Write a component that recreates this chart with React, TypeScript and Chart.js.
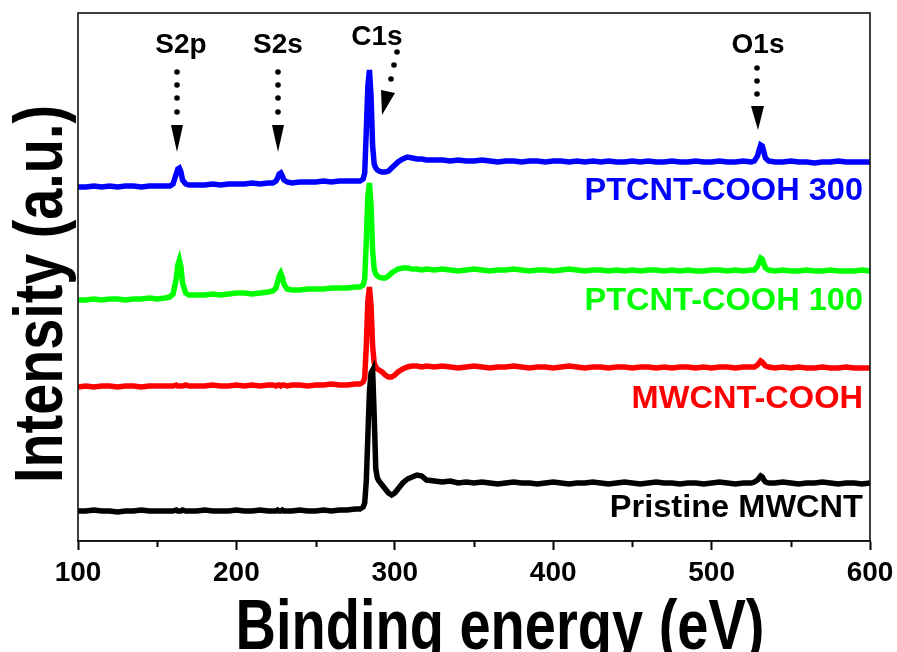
import React, { useEffect, useRef } from "react";
import { Chart, registerables } from "chart.js";

Chart.register(...registerables);

// Binding energy grid (eV)
const energy: number[] = [
  100, 105, 110, 115, 120, 125, 130, 135, 140, 145, 150, 155,
  158, 160, 162, 163, 164, 165, 166, 168, 170,
  175, 180, 185, 190, 195, 200, 205, 210, 215, 220,
  223, 225, 226, 227, 228, 229, 230, 232,
  235, 240, 245, 250, 255, 260, 265, 270, 275,
  278, 280, 281, 282, 283, 284, 285, 286, 287, 288, 289, 290, 292, 294, 296, 298, 300, 302, 305, 308, 311, 314, 317, 320,
  325, 330, 335, 340, 345, 350, 355, 360, 365, 370, 375, 380, 385, 390, 395, 400, 405, 410, 415, 420, 425, 430, 435, 440, 445, 450, 455, 460, 465, 470, 475, 480, 485, 490, 495, 500, 505, 510, 515, 520, 525,
  527, 529, 530, 531, 532, 533, 534, 536,
  540, 545, 550, 555, 560, 565, 570, 575, 580, 585, 590, 595, 600,
];

// Intensity (a.u., stacked offsets) per sample
const pristineMWCNT: number[] = [
  30, 30, 31, 30, 30, 29, 30, 30, 31, 30, 30, 30,
  30, 30, 31, 30, 30, 30, 31, 30, 30,
  30, 31, 30, 30, 30, 31, 30, 30, 31, 30,
  30, 30, 31, 30, 30, 31, 30, 30,
  30, 31, 30, 30, 31, 30, 31, 31, 32,
  32, 34, 38, 60, 105, 150, 168, 171, 125, 72, 63, 60, 56, 52, 48, 46, 48, 52, 58, 62, 64, 66, 65, 61,
  60, 59, 60, 58, 59, 58, 59, 58, 57, 58, 59, 58, 58, 57, 58, 59, 58, 57, 58, 58, 59, 58, 57, 58, 59, 58, 57, 58, 59, 58, 58, 57, 58, 58, 57, 58, 59, 58, 57, 58, 58,
  59, 61, 63, 65, 64, 61, 59, 58,
  58, 59, 58, 57, 58, 58, 59, 58, 57, 58, 58, 57, 58,
];

const mwcntCOOH: number[] = [
  154, 155, 154, 155, 155, 154, 155, 155, 154, 155, 155, 155,
  155, 155, 156, 155, 155, 155, 155, 156, 155,
  155, 155, 156, 155, 155, 156, 155, 156, 155, 156,
  156, 155, 156, 156, 155, 156, 156, 155,
  156, 156, 155, 156, 156, 157, 156, 156, 157,
  157, 159, 163, 195, 240, 254, 235, 195, 178, 174, 172, 171, 169, 166, 164, 164, 166, 169, 172, 174, 175, 175, 174, 175,
  174, 175, 174, 173, 174, 175, 174, 173, 174, 174, 175, 174, 173, 174, 174, 173, 174, 175, 174, 173, 174, 174, 173, 174, 174, 173, 174, 174, 173, 174, 173, 174, 174, 173, 174, 173, 174, 174, 173, 174, 174,
  174, 176, 178, 180, 179, 177, 175, 174,
  173, 174, 173, 174, 173, 173, 174, 173, 173, 174, 173, 173, 173,
];

const ptcnt100: number[] = [
  241, 241, 242, 241, 242, 242, 241, 242, 242, 243, 242, 243,
  244, 247, 262, 276, 281, 274, 258, 248, 246,
  246, 246, 247, 246, 247, 248, 248, 247, 248, 249,
  250, 253, 259, 265, 268, 264, 257, 252,
  251, 251, 252, 252, 252, 253, 253, 253, 254,
  254, 256, 262, 300, 345, 358, 335, 290, 272, 267, 265, 264, 263, 263, 265, 268, 270, 272, 273, 273, 272, 272, 271, 272,
  271, 272, 271, 270, 271, 272, 271, 270, 271, 271, 272, 271, 270, 271, 271, 270, 271, 272, 271, 270, 271, 271, 270, 271, 270, 271, 270, 271, 271, 270, 271, 270, 271, 270, 270, 271, 271, 270, 271, 270, 271,
  271, 275, 279, 283, 282, 277, 273, 271,
  270, 271, 270, 270, 271, 270, 270, 271, 270, 270, 270, 271, 270,
];

const ptcnt300: number[] = [
  354, 354, 355, 354, 355, 354, 355, 355, 354, 355, 355, 355,
  355, 357, 367, 372, 373, 369, 361, 357, 356,
  356, 356, 357, 356, 357, 357, 357, 358, 357, 358,
  358, 360, 363, 367, 368, 365, 361, 359,
  358, 359, 359, 359, 360, 359, 360, 360, 360,
  360, 362, 368, 410, 455, 471, 445, 395, 377, 373, 371, 370, 369, 369, 370, 373, 376, 379, 382, 384, 383, 382, 382, 381,
  381, 381, 380, 381, 380, 380, 381, 380, 379, 380, 380, 379, 380, 380, 379, 380, 380, 379, 380, 379, 380, 379, 380, 379, 379, 380, 379, 380, 379, 379, 380, 379, 379, 380, 379, 379, 380, 379, 379, 380, 379,
  380, 385, 391, 396, 395, 389, 383, 380,
  379, 379, 380, 379, 379, 378, 379, 379, 380, 379, 379, 379, 379,
];

const seriesNames: string[] = ["Pristine MWCNT", "MWCNT-COOH", "PTCNT-COOH 100", "PTCNT-COOH 300"];
const seriesColors: string[] = ["#000000", "#ff0000", "#00ff00", "#0000ff"];
const xTickValues: number[] = [100, 200, 300, 400, 500, 600];
const peakNames: string[] = ["S2p", "S2s", "C1s", "O1s"];

const FONT = "'Liberation Sans', Arial, Helvetica, sans-serif";

export default function App() {
  const ref = useRef<HTMLCanvasElement | null>(null);

  useEffect(() => {
    if (!ref.current) return;
    const series = [pristineMWCNT, mwcntCOOH, ptcnt100, ptcnt300];

    const decor = {
      id: "decor",
      afterDraw(chart: any) {
        const ctx = chart.ctx as CanvasRenderingContext2D;
        const a = chart.chartArea;
        const xs = chart.scales.x;
        ctx.save();
        // frame
        ctx.strokeStyle = "#111";
        ctx.lineWidth = 1.6;
        ctx.strokeRect(a.left, a.top, a.right - a.left, a.bottom - a.top);
        // minor ticks
        ctx.lineWidth = 2;
        ctx.strokeStyle = "#000";
        for (let i = 0; i < xTickValues.length - 1; i++) {
          const v = (xTickValues[i] + xTickValues[i + 1]) / 2;
          const px = Math.round(xs.getPixelForValue(v)) + 0.5;
          ctx.beginPath();
          ctx.moveTo(px, a.bottom);
          ctx.lineTo(px, a.bottom + 6);
          ctx.stroke();
        }
        ctx.fillStyle = "#000";
        // x title (condensed)
        ctx.save();
        ctx.translate(500, 649);
        ctx.scale(0.8, 1);
        ctx.font = `bold 70px ${FONT}`;
        ctx.textAlign = "center";
        ctx.textBaseline = "alphabetic";
        ctx.fillText("Binding energy (eV)", 0, 0);
        ctx.restore();
        // y title
        ctx.save();
        ctx.translate(62, 294);
        ctx.rotate(-Math.PI / 2);
        ctx.scale(0.82, 1);
        ctx.font = `bold 68px ${FONT}`;
        ctx.textAlign = "center";
        ctx.textBaseline = "alphabetic";
        ctx.fillText("Intensity (a.u.)", 0, 0);
        ctx.restore();
        // series labels
        const labelBase = [517, 408, 310, 200];
        for (let i = 0; i < seriesNames.length; i++) {
          ctx.save();
          ctx.translate(863, labelBase[i]);
          ctx.scale(1.05, 1);
          ctx.font = `bold 31px ${FONT}`;
          ctx.textAlign = "right";
          ctx.textBaseline = "alphabetic";
          ctx.fillStyle = seriesColors[i];
          ctx.fillText(seriesNames[i], 0, 0);
          ctx.restore();
        }
        // peak annotations
        ctx.fillStyle = "#000";
        ctx.font = `bold 28px ${FONT}`;
        ctx.textAlign = "center";
        ctx.textBaseline = "alphabetic";
        const labelPos: [number, number][] = [[181, 53], [278, 53], [377, 45], [758, 53]];
        peakNames.forEach((n, i) => ctx.fillText(n, labelPos[i][0], labelPos[i][1]));
        const dot = (x: number, y: number) => {
          ctx.beginPath();
          ctx.arc(x, y, 2.8, 0, Math.PI * 2);
          ctx.fill();
        };
        const tri = (p: number[][]) => {
          ctx.beginPath();
          ctx.moveTo(p[0][0], p[0][1]);
          ctx.lineTo(p[1][0], p[1][1]);
          ctx.lineTo(p[2][0], p[2][1]);
          ctx.closePath();
          ctx.fill();
        };
        [177, 278].forEach((x) => {
          [72, 85, 98, 112].forEach((y) => dot(x, y));
          tri([[x - 6, 125], [x + 6, 125], [x, 152]]);
        });
        [68, 81, 94].forEach((y) => dot(757, y));
        tri([[751, 106], [764, 106], [758, 130]]);
        dot(397, 52);
        dot(394, 65);
        dot(391, 79);
        tri([[381, 90], [395, 93], [382, 115]]);
        ctx.restore();
      },
    };

    const chart = new Chart(ref.current, {
      type: "line",
      data: {
        datasets: series.map((ys, i) => ({
          label: seriesNames[i],
          data: energy.map((x, j) => ({ x, y: ys[j] })),
          borderColor: seriesColors[i],
          backgroundColor: seriesColors[i],
          borderWidth: 5.5,
          pointRadius: 0,
          tension: 0,
          fill: false,
        })),
      },
      options: {
        animation: false,
        responsive: false,
        layout: { padding: { left: 78, top: 13, right: 27, bottom: 0 } },
        plugins: { legend: { display: false }, tooltip: { enabled: false } },
        scales: {
          x: {
            type: "linear",
            min: 100,
            max: 600,
            position: "bottom",
            afterBuildTicks: (s: any) => {
              s.ticks = xTickValues.map((v) => ({ value: v }));
            },
            ticks: {
              font: { size: 28, weight: "bold", family: FONT },
              color: "#000",
              padding: 6,
              maxRotation: 0,
              autoSkip: false,
            },
            grid: {
              display: true,
              drawOnChartArea: false,
              drawTicks: true,
              tickLength: 9,
              tickWidth: 2,
              color: "#000",
            },
            border: { display: true, color: "#111", width: 1.6 },
            afterFit: (s: any) => {
              s.height = 111;
              s.paddingLeft = 0;
              s.paddingRight = 0;
            },
          },
          y: { display: false, min: 0, max: 528 },
        },
      },
      plugins: [decor],
    } as any);
    return () => chart.destroy();
  }, []);

  return (
    <div style={{ position: "fixed", left: 0, top: 0, width: 897, height: 652, background: "#fff" }}>
      <canvas ref={ref} width={897} height={652} />
    </div>
  );
}
